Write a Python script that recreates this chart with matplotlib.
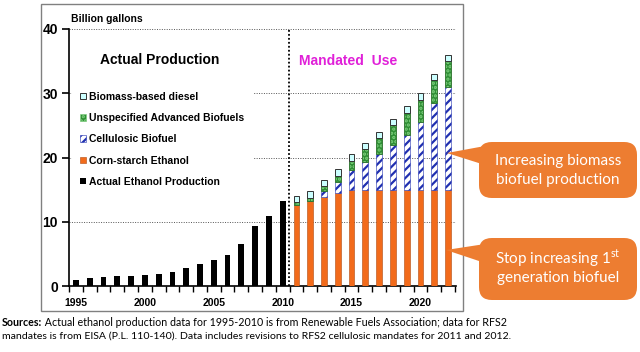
import matplotlib
matplotlib.use("Agg")
from matplotlib import pyplot as plt
from matplotlib.patches import Patch, Rectangle, FancyBboxPatch, Polygon

plt.rcParams['hatch.linewidth'] = 1.6
plt.rcParams['mathtext.fontset'] = 'custom'
plt.rcParams['mathtext.rm'] = 'Lato'

NARROW = ['Liberation Sans', 'DejaVu Sans']

# Data (billion gallons)
years_actual = list(range(1995, 2011))
actual = [1.0, 1.2, 1.4, 1.5, 1.5, 1.7, 1.8, 2.2, 2.8, 3.5, 4.0, 4.9, 6.5, 9.3, 10.9, 13.3]

years_mandate = list(range(2011, 2023))
corn = [12.6, 13.2, 13.8, 14.4, 15.0, 15.0, 15.0, 15.0, 15.0, 15.0, 15.0, 15.0]
cellulosic = [0.0066, 0.0105, 1.0, 1.75, 3.0, 4.25, 5.5, 7.0, 8.5, 10.5, 13.5, 16.0]
unspecified = [0.54, 0.5, 0.75, 1.0, 1.5, 2.0, 2.5, 3.0, 3.5, 3.5, 3.5, 4.0]
biodiesel = [0.8, 1.0, 1.0, 1.0, 1.0, 1.0, 1.0, 1.0, 1.0, 1.0, 1.0, 1.0]

xtick_years = [1995, 2000, 2005, 2010, 2015, 2020]
yticks = [0, 10, 20, 30, 40]

ORANGE = '#F26B1B'
BLUE = '#2030B0'
GREEN = '#2E8E34'
CYAN = '#CCFFFF'
CALLOUT = '#ED7D31'

fig = plt.figure(figsize=(6.4, 3.52), dpi=100)
ax = fig.add_axes([69 / 640, 1 - 286 / 352, (456 - 69) / 640, (286 - 29) / 352])

W = 0.42
ax.bar(years_actual, actual, width=W, color='black', zorder=3)

b1 = corn
b2 = [a + b for a, b in zip(b1, cellulosic)]
b3 = [a + b for a, b in zip(b2, unspecified)]
ax.bar(years_mandate, corn, width=W, color=ORANGE, edgecolor='#B04A10', linewidth=0.4, zorder=3)
ax.bar(years_mandate, cellulosic, width=W, bottom=b1, color='white', edgecolor=BLUE,
       hatch='////', linewidth=0.4, zorder=3)
ax.bar(years_mandate, unspecified, width=W, bottom=b2, color=GREEN, edgecolor='#7FD07F',
       hatch='....', linewidth=0.4, zorder=3)
ax.bar(years_mandate, unspecified, width=W, bottom=b2, fill=False, edgecolor='#1C5E1C',
       linewidth=0.5, zorder=3)
ax.bar(years_mandate, biodiesel, width=W, bottom=b3, color=CYAN, edgecolor='#333333',
       linewidth=0.7, zorder=3)

# Axes
ax.set_xlim(1994.49, 2022.58)
ax.set_ylim(0, 40)
ax.set_yticks(yticks)
ax.set_xticks(xtick_years)
ax.set_xticks([y + 0.5 for y in range(1994, 2023)], minor=True)
ax.tick_params(axis='x', which='major', length=0, pad=9)
ax.tick_params(axis='x', which='minor', length=4, width=1, direction='out')
ax.tick_params(axis='y', length=5, width=1.2, direction='out', pad=3)
for lab in ax.get_xticklabels():
    lab.set_family(NARROW)
    lab.set_fontweight('bold')
    lab.set_fontsize(7.5)
for lab in ax.get_yticklabels():
    lab.set_family(NARROW)
    lab.set_fontweight('bold')
    lab.set_fontsize(10)

ax.yaxis.grid(True, linestyle=(0, (1, 1.5)), color='#555555', linewidth=0.7, zorder=0)
ax.set_axisbelow(True)
for s in ['top', 'right']:
    ax.spines[s].set_visible(False)
ax.spines['left'].set_linewidth(1.2)
ax.spines['bottom'].set_linewidth(1.2)

ax.axvline(2010.45, ymin=0, ymax=1, color='black', linestyle=(0, (1, 1.2)), linewidth=1.3, zorder=4)

# Texts
fig.text(71 / 640, 1 - 19 / 352, 'Billion gallons', family=NARROW, fontweight='bold',
         fontsize=7.5, va='center', ha='left')
ax.text(0.235, 0.878, 'Actual Production', transform=ax.transAxes, family=NARROW,
        fontweight='bold', fontsize=10, ha='center', va='center')
ax.text(0.595, 0.875, 'Mandated  Use', transform=ax.transAxes, family=NARROW,
        fontweight='bold', fontsize=10, ha='left', va='center', color='#E020D8')

# Legend
handles = [
    Patch(facecolor=CYAN, edgecolor='#333333', linewidth=0.7, label='Biomass-based diesel'),
    Patch(facecolor=GREEN, edgecolor='#7FD07F', hatch='....', linewidth=0.4,
          label='Unspecified Advanced Biofuels'),
    Patch(facecolor='white', edgecolor=BLUE, hatch='////', linewidth=0.4, label='Cellulosic Biofuel'),
    Patch(facecolor=ORANGE, edgecolor='#B04A10', linewidth=0.4, label='Corn-starch Ethanol'),
    Patch(facecolor='black', label='Actual Ethanol Production'),
]
leg = ax.legend(handles=handles, loc='upper left', bbox_to_anchor=(71.5 / 640, 1 - 83.5 / 352),
                bbox_transform=fig.transFigure, frameon=True, facecolor='white', edgecolor='none',
                framealpha=1, fancybox=False, borderpad=0.8, borderaxespad=0,
                handlelength=0.6, handleheight=0.6, handletextpad=0.3, labelspacing=1.08,
                prop={'family': NARROW, 'weight': 'bold', 'size': 7.5})
leg.set_zorder(2)

# Outer frame
fig.add_artist(Rectangle((41 / 640, 1 - 311 / 352), 422 / 640, 307 / 352, fill=False,
                         edgecolor='#808080', linewidth=1, transform=fig.transFigure))

# Callouts
def callout(x0, y0, x1, y1, tip, base_top, base_bot, lines):
    tr = fig.transFigure
    fx = lambda px: px / 640
    fy = lambda py: 1 - py / 352
    box = FancyBboxPatch((fx(x0), fy(y1)), fx(x1) - fx(x0), fy(y0) - fy(y1),
                         boxstyle='round,pad=0,rounding_size=0.02', facecolor=CALLOUT,
                         edgecolor='none', transform=tr, mutation_aspect=640 / 352)
    fig.add_artist(box)
    tri = Polygon([(fx(tip[0]), fy(tip[1])), (fx(x0 + 6), fy(base_top)), (fx(x0 + 6), fy(base_bot))],
                  closed=True, facecolor=CALLOUT, edgecolor='none', transform=tr)
    fig.add_artist(tri)
    cx = (x0 + x1) / 2
    for py, txt in lines:
        fig.text(fx(cx), fy(py), txt, color='white', family='Lato', fontsize=11,
                 ha='center', va='center')

callout(479, 142, 637, 198, (447, 153), 146, 165,
        [(161, 'Increasing biomass'), (180, 'biofuel production')])
callout(479, 238, 637, 300, (446, 250), 244, 263,
        [(258, 'Stop increasing 1$^{\\rm st}$'), (278, 'generation biofuel')])

# Sources note
src = fig.text(2 / 640, 1 - 322 / 352, 'Sources:', family='Lato', fontweight='bold',
               fontsize=7.65, va='center', ha='left')
fig.add_artist(plt.Annotation(
    ' Actual ethanol production data for 1995-2010 is from Renewable Fuels Association; data for RFS2',
    xy=(1, 0), xycoords=src, va='bottom', ha='left', family='Lato', fontsize=7.65))
fig.text(2 / 640, 1 - 336 / 352,
         'mandates is from EISA (P.L. 110-140). Data includes revisions to RFS2 cellulosic mandates for 2011 and 2012.',
         family='Lato', fontsize=7.55, va='center', ha='left')

fig.savefig('out.png', dpi=100)
